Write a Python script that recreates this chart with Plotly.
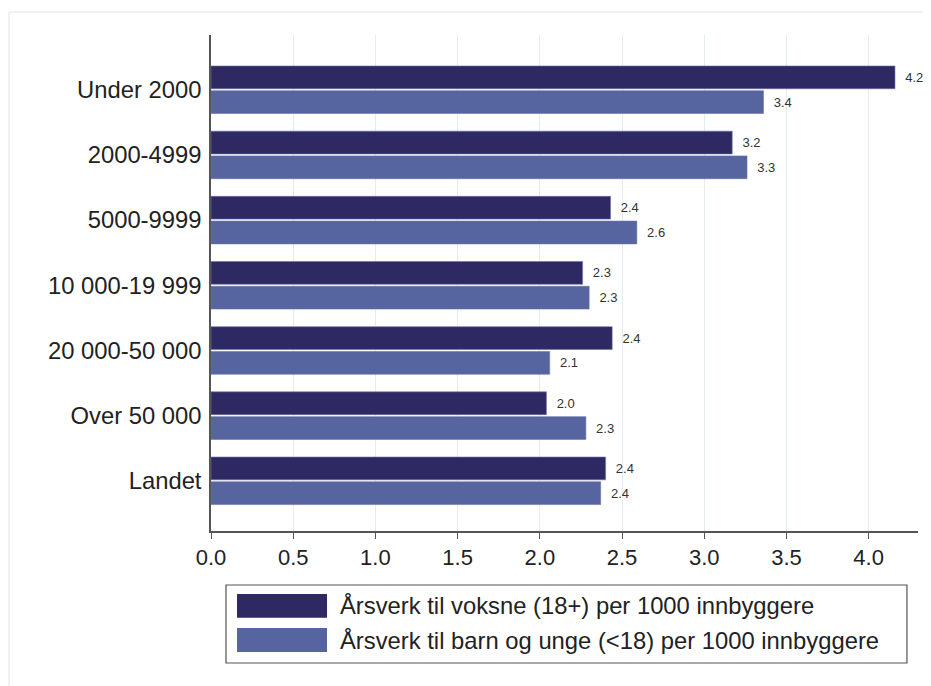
import plotly.graph_objects as go

categories = ["Under 2000", "2000-4999", "5000-9999", "10 000-19 999",
              "20 000-50 000", "Over 50 000", "Landet"]
voksne = [4.16, 3.17, 2.43, 2.26, 2.44, 2.04, 2.40]
barn = [3.36, 3.26, 2.59, 2.30, 2.06, 2.28, 2.37]
series_names = ["Årsverk til voksne (18+) per 1000 innbyggere",
                "Årsverk til barn og unge (<18) per 1000 innbyggere"]
x_ticks = [0, 0.5, 1, 1.5, 2, 2.5, 3, 3.5, 4]
x_ticklabels = ["0.0", "0.5", "1.0", "1.5", "2.0", "2.5", "3.0", "3.5", "4.0"]

c_dark = "#2E2963"
c_light = "#5664A0"
font_family = "Liberation Sans, Arial, sans-serif"

fig = go.Figure()
for vals, col, name in [(voksne, c_dark, series_names[0]), (barn, c_light, series_names[1])]:
    fig.add_trace(go.Bar(
        y=categories, x=vals, orientation="h", name=name,
        marker=dict(color=col, line=dict(color="#6a74a8", width=0.6)),
        text=[f"{v:.1f}" for v in vals],
        texttemplate="  %{text}",
        textposition="outside", cliponaxis=False,
        textfont=dict(size=13, color="#333333", family=font_family),
        showlegend=False,
    ))

# figure placed at (8,8) in page; plot area target: x 211..918, y 35..531
W, H = 923, 678
fig.update_layout(
    width=W, height=H,
    margin=dict(l=203, r=W - 910, t=27, b=H - 523),
    paper_bgcolor="white", plot_bgcolor="white",
    barmode="group", bargap=0.24, bargroupgap=0.08,
    font=dict(family=font_family, color="#222222"),
    showlegend=False,
)
fig.update_xaxes(
    range=[0, 4.3], tickvals=x_ticks, ticktext=x_ticklabels,
    showgrid=True, gridcolor="#e3ecef", gridwidth=1,
    showline=True, linecolor="#555555", linewidth=1.5,
    ticks="outside", ticklen=6, tickcolor="#555555", tickwidth=1.2,
    tickfont=dict(size=22, color="#222222"), zeroline=False,
)
fig.update_yaxes(
    categoryorder="array", categoryarray=categories,
    range=[6.77, -0.84],
    showline=True, linecolor="#555555", linewidth=1.5,
    ticks="", ticklabelstandoff=3,
    tickfont=dict(size=23.8, color="#222222"), showgrid=False,
)

# outer frame
fig.add_shape(type="rect", xref="paper", yref="paper",
              x0=-0.2857, x1=1.05, y0=-0.35, y1=1.0464,
              line=dict(color="#dde5e8", width=1), fillcolor="rgba(0,0,0,0)", layer="below")

# custom legend
fig.add_shape(type="rect", xref="paper", yref="paper",
              x0=0.0212, x1=0.9844, y0=-0.2661, y1=-0.1089,
              line=dict(color="#555555", width=1.2), fillcolor="white")
sw = [(-0.175, -0.127, c_dark, -0.1512), (-0.244, -0.1956, c_light, -0.2198)]
for (y0, y1, col, yc), name in zip(sw, series_names):
    fig.add_shape(type="rect", xref="paper", yref="paper",
                  x0=0.0368, x1=0.1641, y0=y0, y1=y1,
                  line=dict(color=col, width=0), fillcolor=col)
    fig.add_annotation(xref="paper", yref="paper", x=0.1796, y=yc,
                       text=name, showarrow=False, xanchor="left", yanchor="middle",
                       font=dict(size=23.8, color="#222222", family=font_family))

fig.write_html("out.html")
